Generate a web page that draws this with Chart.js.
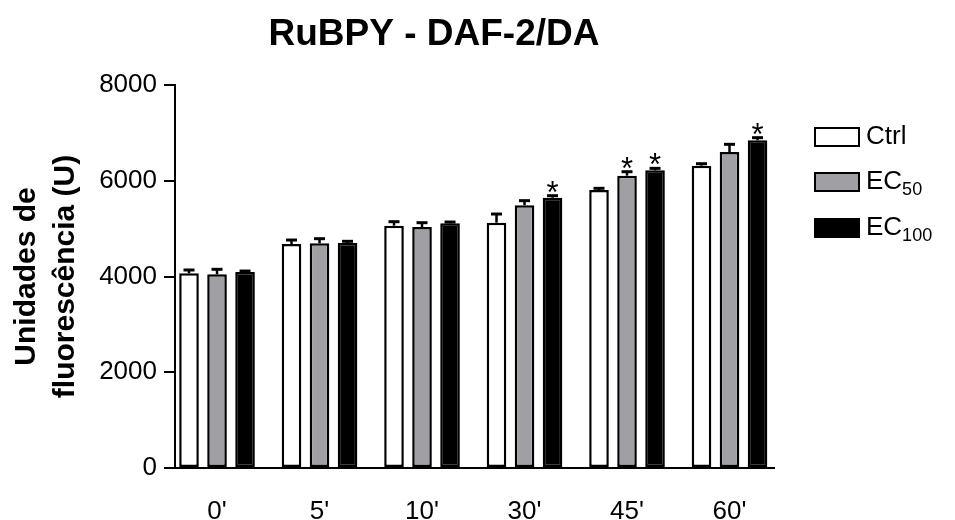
<!DOCTYPE html>
<html>
<head>
<meta charset="utf-8">
<script src="https://cdn.jsdelivr.net/npm/chart.js@4.4.1/dist/chart.umd.min.js"></script>
<style>
  body { margin: 0; background: #fff; }
  canvas { display: block; }
</style>
</head>
<body>
<canvas id="chart" width="955" height="520"></canvas>
<script>
const titleText = 'RuBPY - DAF-2/DA';
const yTitle = ['Unidades de', 'fluorescência (U)'];
const categories = ["0'", "5'", "10'", "30'", "45'", "60'"];
const yTicks = [0, 2000, 4000, 6000, 8000];

const seriesNames = ['Ctrl', 'EC', 'EC'];
const seriesSubs = ['', '50', '100'];

const ctrlMeans = [4067, 4679, 5061, 5124, 5807, 6315];
const ctrlErr = [69, 83, 84, 181, 35, 41];
const ctrlSig = [0, 0, 0, 0, 0, 0];

const ec50Means = [4046, 4693, 5034, 5487, 6106, 6600];
const ec50Err = [104, 97, 90, 97, 83, 161];
const ec50Sig = [0, 0, 0, 0, 1, 0];

const ec100Means = [4094, 4700, 5111, 5646, 6217, 6845];
const ec100Err = [20, 35, 27, 42, 42, 55];
const ec100Sig = [0, 0, 0, 1, 1, 1];

const FONT = "'Liberation Sans', Arial, Helvetica, sans-serif";

function makeSet(i, means, errs, sigs, color) {
    return {
        label: seriesNames[i] + seriesSubs[i],
        data: means.map(function (v, k) { return { x: k, y: v }; }),
        errs: errs,
        sigs: sigs,
        sub: seriesSubs[i],
        name: seriesNames[i],
        backgroundColor: color,
        borderColor: '#000',
        borderWidth: 2.5,
        borderSkipped: false,
        categoryPercentage: 0.82,
        barPercentage: 0.70
    };
}

// error bars, asterisks, title and legend
const extras = {
    id: 'extras',
    afterDatasetsDraw(chart) {
        const ctx = chart.ctx;
        const ys = chart.scales.y;
        ctx.save();
        ctx.strokeStyle = '#000';
        ctx.fillStyle = '#000';
        chart.data.datasets.forEach(function (ds, di) {
            const meta = chart.getDatasetMeta(di);
            meta.data.forEach(function (bar, k) {
                const top = ys.getPixelForValue(ds.data[k].y + ds.errs[k]);
                const half = bar.width * 0.28;
                ctx.lineWidth = 2.5;
                ctx.beginPath();
                ctx.moveTo(bar.x, bar.y);
                ctx.lineTo(bar.x, top);
                ctx.stroke();
                ctx.lineWidth = 3;
                ctx.beginPath();
                ctx.moveTo(bar.x - half, top);
                ctx.lineTo(bar.x + half, top);
                ctx.stroke();
                if (ds.sigs[k]) {
                    ctx.font = '31px ' + FONT;
                    ctx.textAlign = 'center';
                    ctx.textBaseline = 'alphabetic';
                    ctx.fillText('*', bar.x, top + 7);
                }
            });
        });
        ctx.restore();
    },
    afterDraw(chart) {
        const ctx = chart.ctx;
        ctx.save();
        ctx.fillStyle = '#000';
        ctx.font = 'bold 37px ' + FONT;
        ctx.textAlign = 'center';
        ctx.textBaseline = 'middle';
        ctx.fillText(titleText, 434, 35);

        const rowY = [137, 182, 228];
        chart.data.datasets.forEach(function (ds, i) {
            const y = rowY[i];
            ctx.fillStyle = ds.backgroundColor;
            ctx.fillRect(815, y - 9, 44, 18);
            ctx.lineWidth = 2;
            ctx.strokeStyle = '#000';
            ctx.strokeRect(815, y - 9, 44, 18);
            ctx.fillStyle = '#000';
            ctx.textAlign = 'left';
            ctx.textBaseline = 'middle';
            ctx.font = '26px ' + FONT;
            ctx.fillText(ds.name, 866, y);
            if (ds.sub) {
                const w = ctx.measureText(ds.name).width;
                ctx.font = '18px ' + FONT;
                ctx.fillText(ds.sub, 866 + w, y + 8);
            }
        });
        ctx.restore();
    }
};

const chart = new Chart(document.getElementById('chart'), {
    type: 'bar',
    data: {
        datasets: [
            makeSet(0, ctrlMeans, ctrlErr, ctrlSig, '#ffffff'),
            makeSet(1, ec50Means, ec50Err, ec50Sig, '#a0a0a4'),
            makeSet(2, ec100Means, ec100Err, ec100Sig, '#000000')
        ]
    },
    options: {
        responsive: false,
        animation: false,
        devicePixelRatio: 1,
        layout: { padding: { left: 4, right: 181, top: 85, bottom: 0 } },
        plugins: {
            legend: { display: false },
            title: { display: false },
            tooltip: { enabled: false }
        },
        scales: {
            x: {
                type: 'linear',
                offset: false,
                min: -0.41,
                max: 5.434,
                grid: { display: false },
                border: { display: true, color: '#000', width: 2 },
                afterBuildTicks: function (s) {
                    s.ticks = categories.map(function (c, i) { return { value: i }; });
                },
                afterFit: function (s) { s.height = 52; },
                ticks: {
                    autoSkip: false,
                    maxRotation: 0,
                    padding: 20,
                    color: '#000',
                    font: { family: FONT, size: 26 },
                    callback: function (v) { return categories[v]; }
                }
            },
            y: {
                min: 0,
                max: 8000,
                afterBuildTicks: function (s) {
                    s.ticks = yTicks.map(function (v) { return { value: v }; });
                },
                afterFit: function (s) { s.width = 171; },
                grid: { drawOnChartArea: false, drawTicks: true, tickLength: 11, color: '#000', lineWidth: 2 },
                border: { display: true, color: '#000', width: 2 },
                ticks: {
                    padding: 7,
                    color: '#000',
                    font: { family: FONT, size: 26 },
                    callback: function (v) { return String(v); }
                },
                title: {
                    display: true,
                    text: yTitle,
                    color: '#000',
                    padding: { top: 3, bottom: 0 },
                    font: { family: FONT, size: 30, weight: 'bold', lineHeight: 1.3 }
                }
            }
        }
    },
    plugins: [extras]
});
</script>
</body>
</html>
